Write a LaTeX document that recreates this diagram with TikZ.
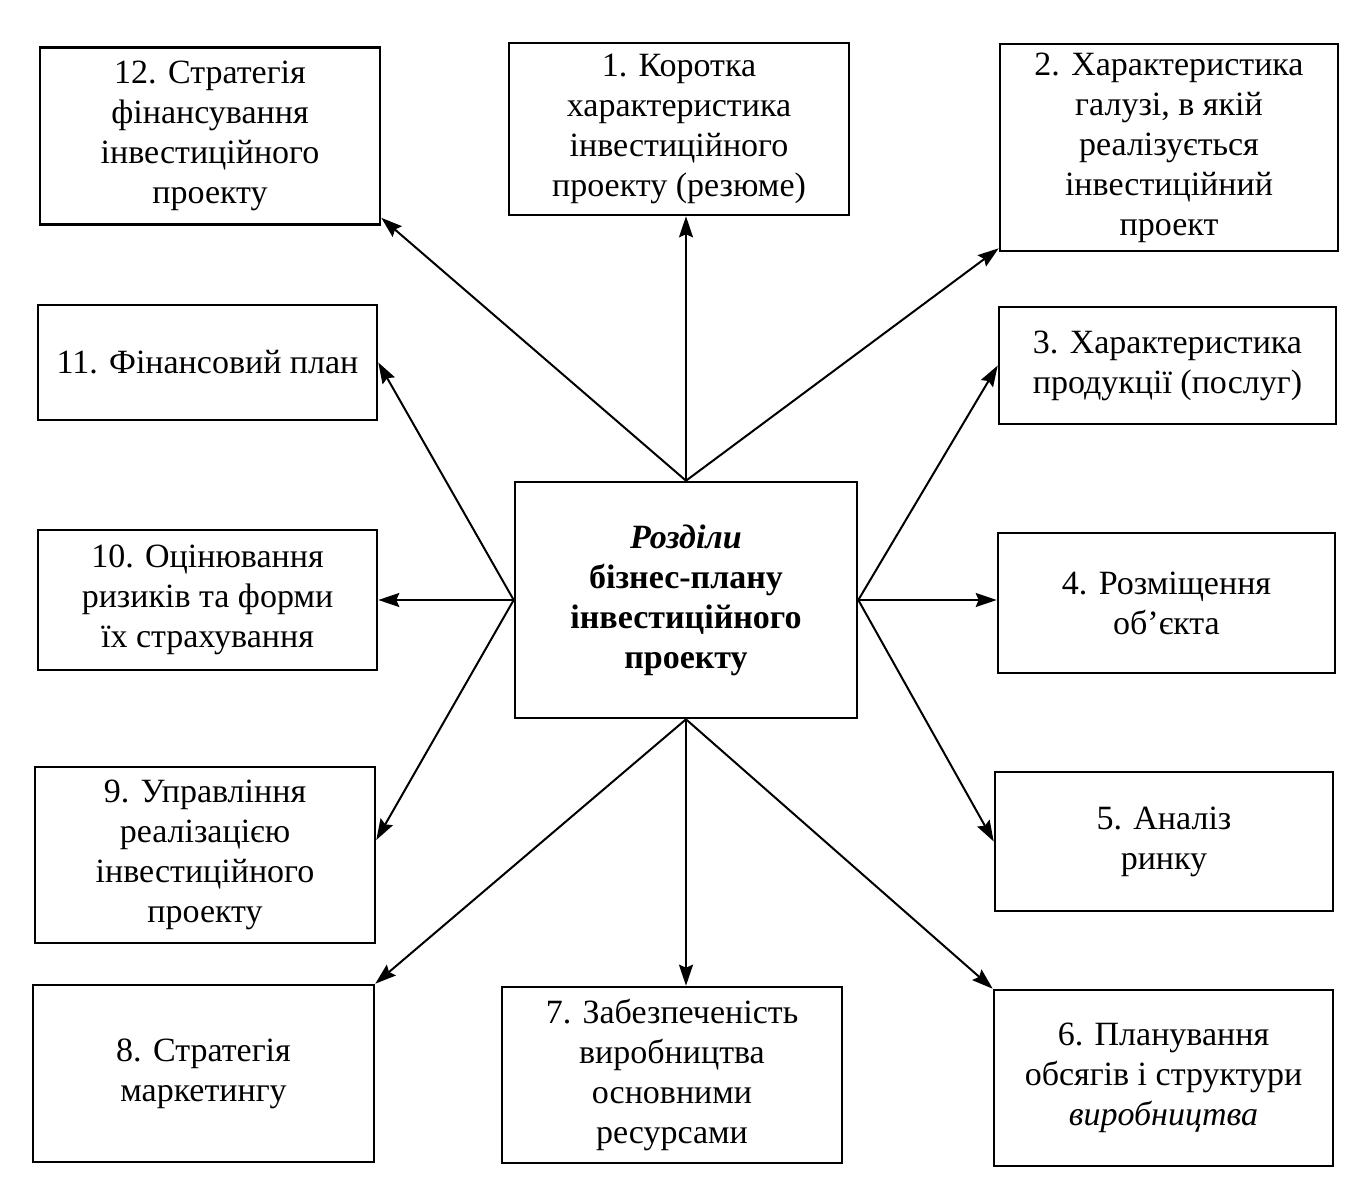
\documentclass[tikz,border=0pt]{standalone}
\usepackage{fontspec}
\setmainfont{Liberation Serif}
\usetikzlibrary{arrows.meta}
\begin{document}
\begin{tikzpicture}[x=1pt,y=-1pt,
  box/.style={draw, line width=2.6pt, align=center, inner sep=0pt,
    font=\fontsize{34}{40}\selectfont},
  conn/.style={line width=2pt, -{Stealth[length=21pt,width=14pt,inset=3pt]}}]
\useasboundingbox (0,0) rectangle (1361,1185);
\fill[white] (0,0) rectangle (1361,1185);
\node[box, minimum width=340, minimum height=177] (b12) at (210,136) {12. Стратегія\\фінансування\\інвестиційного\\проекту};
\node[box, minimum width=340, minimum height=172] (b1) at (679,129) {1. Коротка\\характеристика\\інвестиційного\\проекту (резюме)};
\node[box, minimum width=338, minimum height=207] (b2) at (1169,147.5) {2. Характеристика\\галузі, в якій\\реалізується\\інвестиційний\\проект};
\node[box, minimum width=339, minimum height=115] (b11) at (207.5,362.5) {11. Фінансовий план};
\node[box, minimum width=337, minimum height=117] (b3) at (1167.5,365.5) {3. Характеристика\\продукції (послуг)};
\node[box, minimum width=342, minimum height=236, font=\fontsize{34}{40}\selectfont\bfseries] (c) at (686,600) {\textit{Розділи}\\бізнес-плану\\інвестиційного\\проекту};
\node[box, minimum width=339, minimum height=140] (b10) at (207.5,600) {10. Оцінювання\\ризиків та форми\\їх страхування};
\node[box, minimum width=337, minimum height=140] (b4) at (1166.5,603) {4. Розміщення\\об’єкта};
\node[box, minimum width=340, minimum height=176] (b9) at (205,855) {9. Управління\\реалізацією\\інвестиційного\\проекту};
\node[box, minimum width=338, minimum height=139] (b5) at (1164,841.5) {5. Аналіз\\ринку};
\node[box, minimum width=341, minimum height=177] (b8) at (203.5,1073.5) {8. Стратегія\\маркетингу};
\node[box, minimum width=340, minimum height=176] (b7) at (672,1075) {7. Забезпеченість\\виробництва\\основними\\ресурсами};
\node[box, minimum width=339, minimum height=176] (b6) at (1163.5,1078) {6. Планування\\обсягів і структури\\\textit{виробництва}};
\draw[conn] (c.north) -- ([yshift=8]b12.south east);
\draw[conn] (c.north) -- (c.north |- b1.south);
\draw[conn] (c.north) -- ([yshift=4]b2.south west);
\draw[conn] (c.west) -- (b11.east);
\draw[conn] (c.west) -- (c.west -| b10.east);
\draw[conn] (c.west) -- ([yshift=15]b9.east);
\draw[conn] (c.east) -- (b3.west);
\draw[conn] (c.east) -- (c.east -| b4.west);
\draw[conn] (c.east) -- (b5.west);
\draw[conn] (c.south) -- (b8.north east);
\draw[conn] (c.south) -- (c.south |- b7.north);
\draw[conn] (c.south) -- (b6.north west);
\end{tikzpicture}
\end{document}
